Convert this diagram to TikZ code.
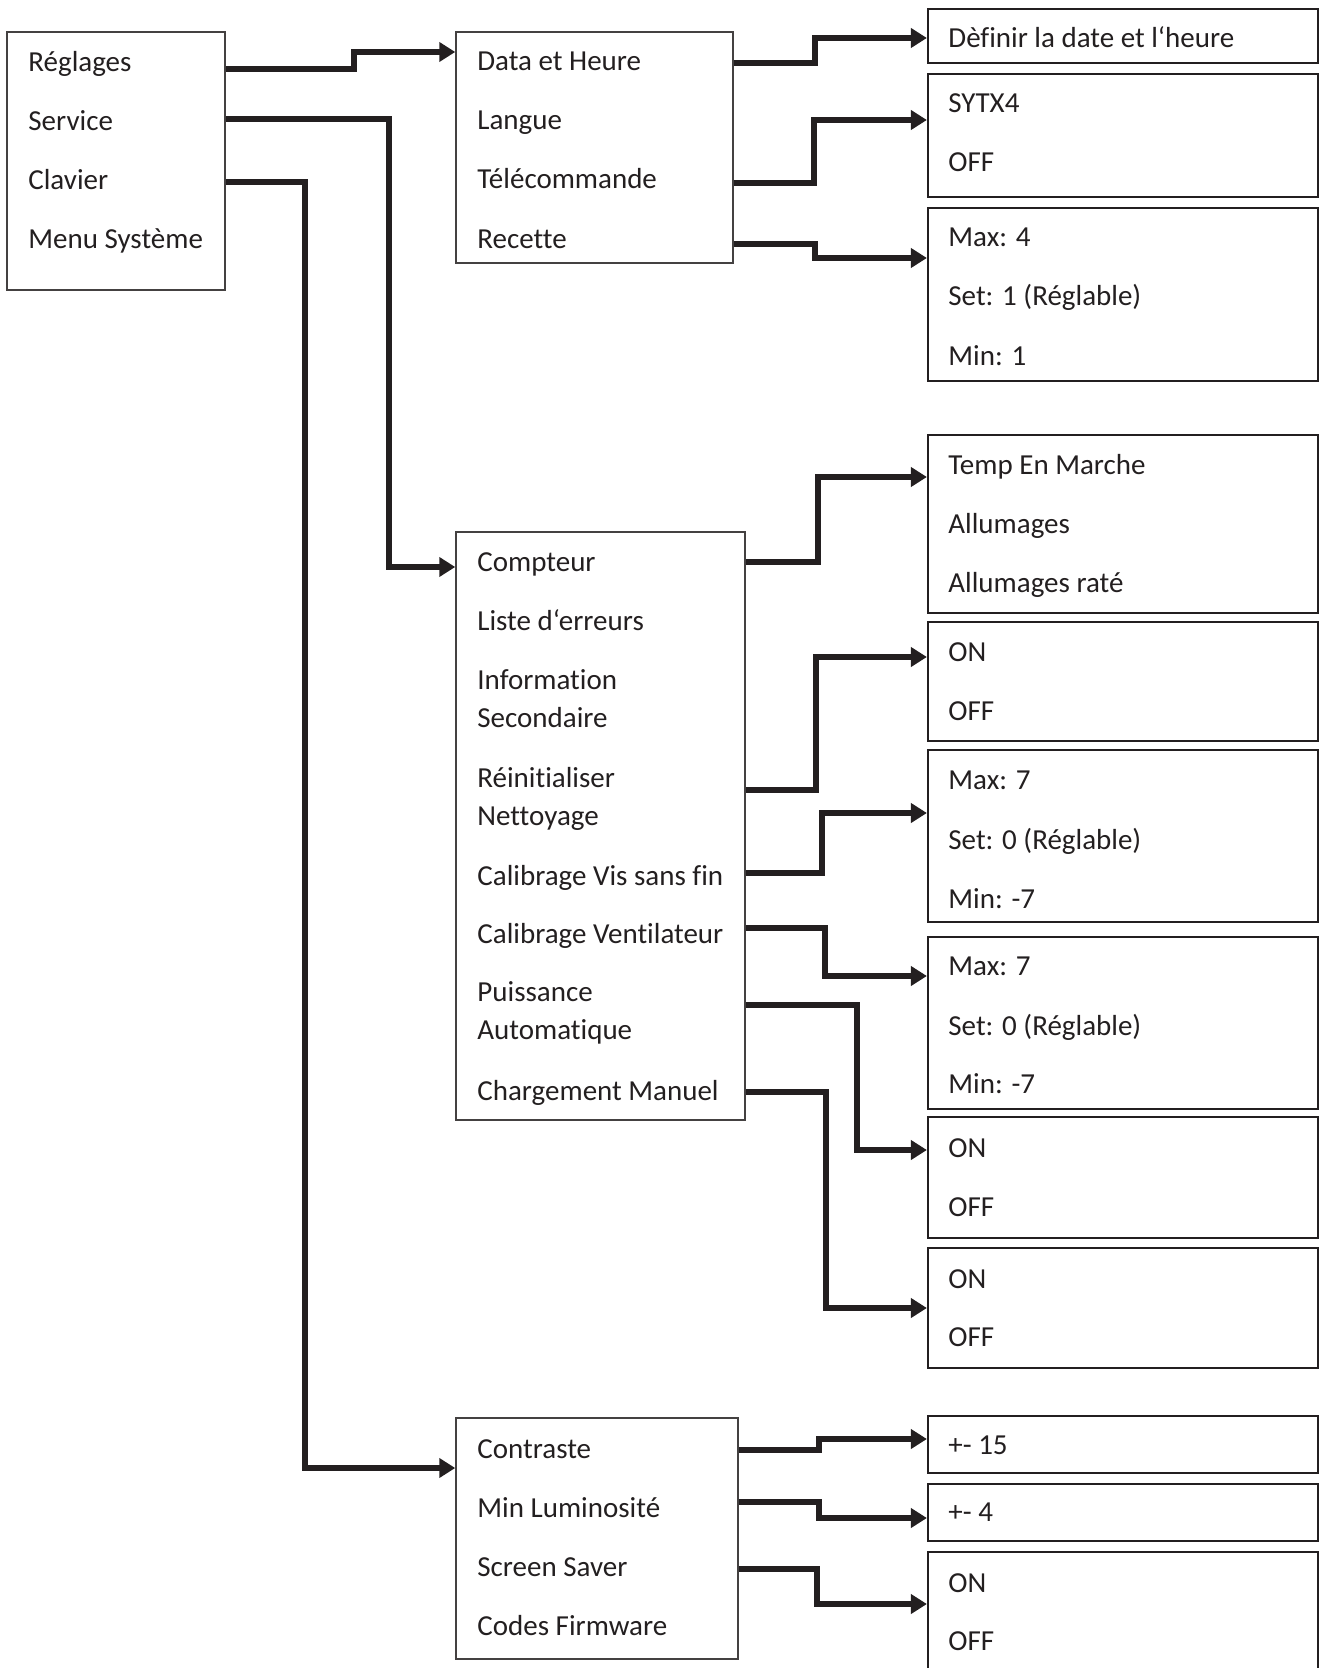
\documentclass[tikz,border=0pt]{standalone}
\usepackage{fontspec}
\setmainfont[Ligatures={NoCommon}]{Carlito}
\usetikzlibrary{arrows.meta,fit}
\definecolor{ink}{HTML}{231F20}
\tikzset{
  x=0.5pt, y=-0.5pt,
  box/.style={draw=ink!85, line width=0.75pt, inner sep=0pt, fill=none},
  rbox/.style={draw=ink, line width=1.1pt, inner sep=0pt, fill=none},
  item/.style={anchor=base west, inner sep=0pt, text=ink, font=\fontsize{14.5pt}{17pt}\selectfont},
  conn/.style={draw=ink, line width=2.6pt, -{Triangle[length=8pt,width=9.5pt]}},
}
\begin{document}
\begin{tikzpicture}
\useasboundingbox (0,0) rectangle (1320,1668);
\clip (0,0) rectangle (1320,1668);
% main menu
\node[box, fit={(7,32) (225,290)}] (L) {};
\node[item] (reg) at (28,72) {Réglages};
\node[item] (ser) at (28,131) {Service};
\node[item] (cla) at (28,190) {Clavier};
\node[item] (msy) at (28,249) {Menu Système};
% Réglages submenu
\node[box, fit={(456,32) (733,263)}] (D) {};
\node[item] (dat) at (477,71) {Data et Heure};
\node[item] (lan) at (477,130) {Langue};
\node[item] (tel) at (477,189) {Télécommande};
\node[item] (rec) at (477,249) {Recette};
\node[rbox, fit={(928,9) (1318,63)}] (R1) {};
\node[item] at (948,48) (r1a) {Dèfinir la date et l‘heure};
\node[rbox, fit={(928,74) (1318,197)}] (R2) {};
\node[item] at (948,113) (r2a) {SYTX4};
\node[item] at (948,172) (r2b) {OFF};
\node[rbox, fit={(928,208) (1318,381)}] (R3) {};
\node[item] at (948,247) (r3a) {Max: 4};
\node[item] at (948,306) (r3b) {Set: 1 (Réglable)};
\node[item] at (948,366) (r3c) {Min: 1};
% Service submenu
\node[box, fit={(456,532) (745,1120)}] (S) {};
\node[item] (s1) at (477,571) {Compteur};
\node[item] (s2) at (477,630) {Liste d‘erreurs};
\node[item] (s3) at (477,689) {Information};
\node[item] (s3b) at (477,727) {Secondaire};
\node[item] (s4) at (477,787) {Réinitialiser};
\node[item] (s4b) at (477,825) {Nettoyage};
\node[item] (s5) at (477,885) {Calibrage Vis sans fin};
\node[item] (s6) at (477,943) {Calibrage Ventilateur};
\node[item] (s7) at (477,1001) {Puissance};
\node[item] (s7b) at (477,1039) {Automatique};
\node[item] (s8) at (477,1100) {Chargement Manuel};
\node[rbox, fit={(928,435) (1318,613)}] (R4) {};
\node[item] at (948,474) (r4a) {Temp En Marche};
\node[item] at (948,533) (r4b) {Allumages};
\node[item] at (948,592) (r4c) {Allumages raté};
\node[rbox, fit={(928,622) (1318,741)}] (R5) {};
\node[item] at (948,661) (r5a) {ON};
\node[item] at (948,720) (r5b) {OFF};
\node[rbox, fit={(928,750) (1318,922)}] (R6) {};
\node[item] at (948,789) (r6a) {Max: 7};
\node[item] at (948,849) (r6b) {Set: 0 (Réglable)};
\node[item] at (948,908) (r6c) {Min: -7};
\node[rbox, fit={(928,937) (1318,1109)}] (R7) {};
\node[item] at (948,975) (r7a) {Max: 7};
\node[item] at (948,1035) (r7b) {Set: 0 (Réglable)};
\node[item] at (948,1093) (r7c) {Min: -7};
\node[rbox, fit={(928,1117) (1318,1238)}] (R8) {};
\node[item] at (948,1157) (r8a) {ON};
\node[item] at (948,1216) (r8b) {OFF};
\node[rbox, fit={(928,1248) (1318,1368)}] (R9) {};
\node[item] at (948,1288) (r9a) {ON};
\node[item] at (948,1346) (r9b) {OFF};
% Clavier submenu
\node[box, fit={(456,1418) (738,1659)}] (C) {};
\node[item] (c1) at (477,1458) {Contraste};
\node[item] (c2) at (477,1517) {Min Luminosité};
\node[item] (c3) at (477,1576) {Screen Saver};
\node[item] (c4) at (477,1635) {Codes Firmware};
\node[rbox, fit={(928,1416) (1318,1473)}] (R10) {};
\node[item] at (948,1454) (r10a) {+- 15};
\node[rbox, fit={(928,1484) (1318,1541)}] (R11) {};
\node[item] at (948,1521) (r11a) {+- 4};
\node[rbox, fit={(928,1552) (1318,1700)}] (R12) {};
\node[item] at (948,1592) (r12a) {ON};
\node[item] at (948,1650) (r12b) {OFF};
% connectors
\draw[conn] (L.east |- 0,69) -| (354,52) -- (D.west |- 0,52);
\draw[conn] (L.east |- 0,119) -| (389,567) -- (S.west |- 0,567);
\draw[conn] (L.east |- 0,182) -| (305,1468) -- (C.west |- 0,1468);
\draw[conn] (D.east |- 0,63) -| (815,38) -- (R1.west |- 0,38);
\draw[conn] (D.east |- 0,183) -| (814,120) -- (R2.west |- 0,120);
\draw[conn] (D.east |- 0,244) -| (815,258) -- (R3.west |- 0,258);
\draw[conn] (S.east |- 0,562) -| (818,477) -- (R4.west |- 0,477);
\draw[conn] (S.east |- 0,790) -| (816,657) -- (R5.west |- 0,657);
\draw[conn] (S.east |- 0,873) -| (822,813) -- (R6.west |- 0,813);
\draw[conn] (S.east |- 0,928) -| (825,976) -- (R7.west |- 0,976);
\draw[conn] (S.east |- 0,1005) -| (857,1150) -- (R8.west |- 0,1150);
\draw[conn] (S.east |- 0,1092) -| (826,1308) -- (R9.west |- 0,1308);
\draw[conn] (C.east |- 0,1450) -| (819,1439) -- (R10.west |- 0,1439);
\draw[conn] (C.east |- 0,1502) -| (819,1518) -- (R11.west |- 0,1518);
\draw[conn] (C.east |- 0,1569) -| (817,1604) -- (R12.west |- 0,1604);
\end{tikzpicture}
\end{document}
